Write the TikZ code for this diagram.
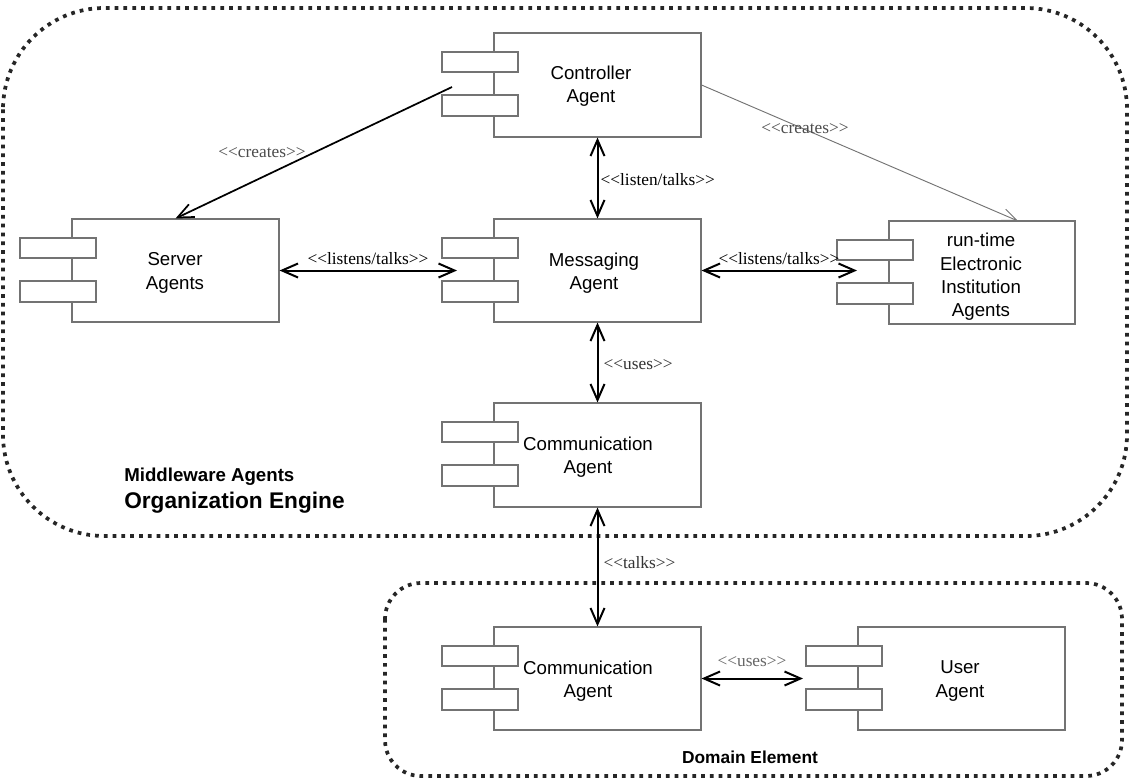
\documentclass[tikz,border=0pt]{standalone}
\usepackage{fontspec}
\setmainfont{Liberation Serif}
\setsansfont{Liberation Sans}
\usetikzlibrary{arrows.meta,calc,fit}

\tikzset{
  region/.style={draw=black!85, line width=2.8pt, dash pattern=on 2.8pt off 3.8pt},
  compbox/.style={draw=black!55, line width=0.8pt, fill=white, inner sep=0pt},
  tabbox/.style={draw=black!55, line width=0.8pt, fill=white},
  ctext/.style={font=\sffamily\fontsize{14}{17.5}\selectfont, align=center, inner sep=0pt},
  stereo/.style={font=\fontsize{13}{15}\selectfont, inner sep=1pt},
  barb/.tip={Straight Barb[length=12pt,width=10.5pt]},
  conn/.style={line width=1.5pt, {barb}-{barb}},
  createsL/.style={line width=1.3pt, -{barb}},
  createsR/.style={line width=0.7pt, draw=black!55, -{Straight Barb[length=11pt,width=9pt]}},
  boldlbl/.style={font=\sffamily\bfseries, inner sep=0pt},
}

\newcommand{\stereotype}[1]{<{}<#1>{}>}

% name, x1, y1, x2, y2
\newcommand{\agentcomp}[5]{%
  \node[compbox, fit={(#2,#3) (#4,#5)}] (#1) {};
  \draw[tabbox] (#2-52,#3+19) rectangle ++(76,20);
  \draw[tabbox] (#2-52,#3+62) rectangle ++(76,21);
}

\begin{document}
\begin{tikzpicture}[x=0.75pt,y=-0.75pt]
\useasboundingbox (0,0) rectangle (1130,779);

% regions
\draw[region, rounded corners=76pt] (3,8) rectangle (1127,536);
\draw[region, rounded corners=27pt] (385,583) rectangle (1122,776);

% components
\agentcomp{ctrl}{494}{33}{701}{137}
\agentcomp{srv}{72}{219}{279}{322}
\agentcomp{msg}{494}{219}{701}{322}
\agentcomp{ei}{889}{221}{1075}{324}
\agentcomp{comm}{494}{403}{701}{507}
\agentcomp{comm2}{494}{627}{701}{730}
\agentcomp{user}{858}{627}{1065}{730}

\node[ctext] (ctrl-t) at (591,86) {Controller\\Agent};
\node[ctext] (srv-t) at (175,273) {Server\\Agents};
\node[ctext] (msg-t) at (594,273) {Messaging\\Agent};
\node[ctext] (ei-t) at (981,277) {run-time\\Electronic\\Institution\\Agents};
\node[ctext] (comm-t) at (588,457) {Communication\\Agent};
\node[ctext] (comm2-t) at (588,681) {Communication\\Agent};
\node[ctext] (user-t) at (960,681) {User\\Agent};

% region labels
\node[boldlbl, anchor=west, font=\sffamily\bfseries\fontsize{14}{16}\selectfont] (mw) at (124,477) {Middleware Agents};
\node[boldlbl, anchor=west, font=\sffamily\bfseries\fontsize{17}{19}\selectfont] (oe) at (124,503) {Organization Engine};
\node[boldlbl, font=\sffamily\bfseries\fontsize{13}{15}\selectfont] (de) at (750,757) {Domain Element};

% connector end points
\coordinate (ctrl-out) at (452,87);
\coordinate (ei-top) at (1018,221);
\coordinate (msg-in) at (457,271);
\coordinate (ei-in) at (857,271);
\coordinate (user-in) at (803,678);

% connectors
\draw[createsL] (ctrl-out) -- (srv.north);
\draw[createsR] (ctrl.east) -- (ei-top);
\draw[conn] (ctrl.south) -- (msg.north);
\draw[conn] (msg.south) -- (comm.north);
\draw[conn] (comm.south) -- (comm2.north);
\draw[conn] (srv.east) -- (srv.east -| msg-in);
\draw[conn] (msg.east) -- (msg.east -| ei-in);
\draw[conn] (comm2.east) -- (comm2.east -| user-in);

% stereotype labels
\node[stereo, text=black!70] (l1) at (262,153) {\stereotype{creates}};
\node[stereo, text=black!70] (l2) at (805,129) {\stereotype{creates}};
\node[stereo, anchor=west] (l3) at (599,180) {\stereotype{listen/talks}};
\node[stereo] (l4) at (368,259) {\stereotype{listens/talks}};
\node[stereo] (l5) at (779,259) {\stereotype{listens/talks}};
\node[stereo, anchor=west, text=black!80] (l6) at (602,365) {\stereotype{uses}};
\node[stereo, anchor=west, text=black!80] (l7) at (602,563) {\stereotype{talks}};
\node[stereo, text=black!60] (l8) at (752,662) {\stereotype{uses}};
\end{tikzpicture}
\end{document}
